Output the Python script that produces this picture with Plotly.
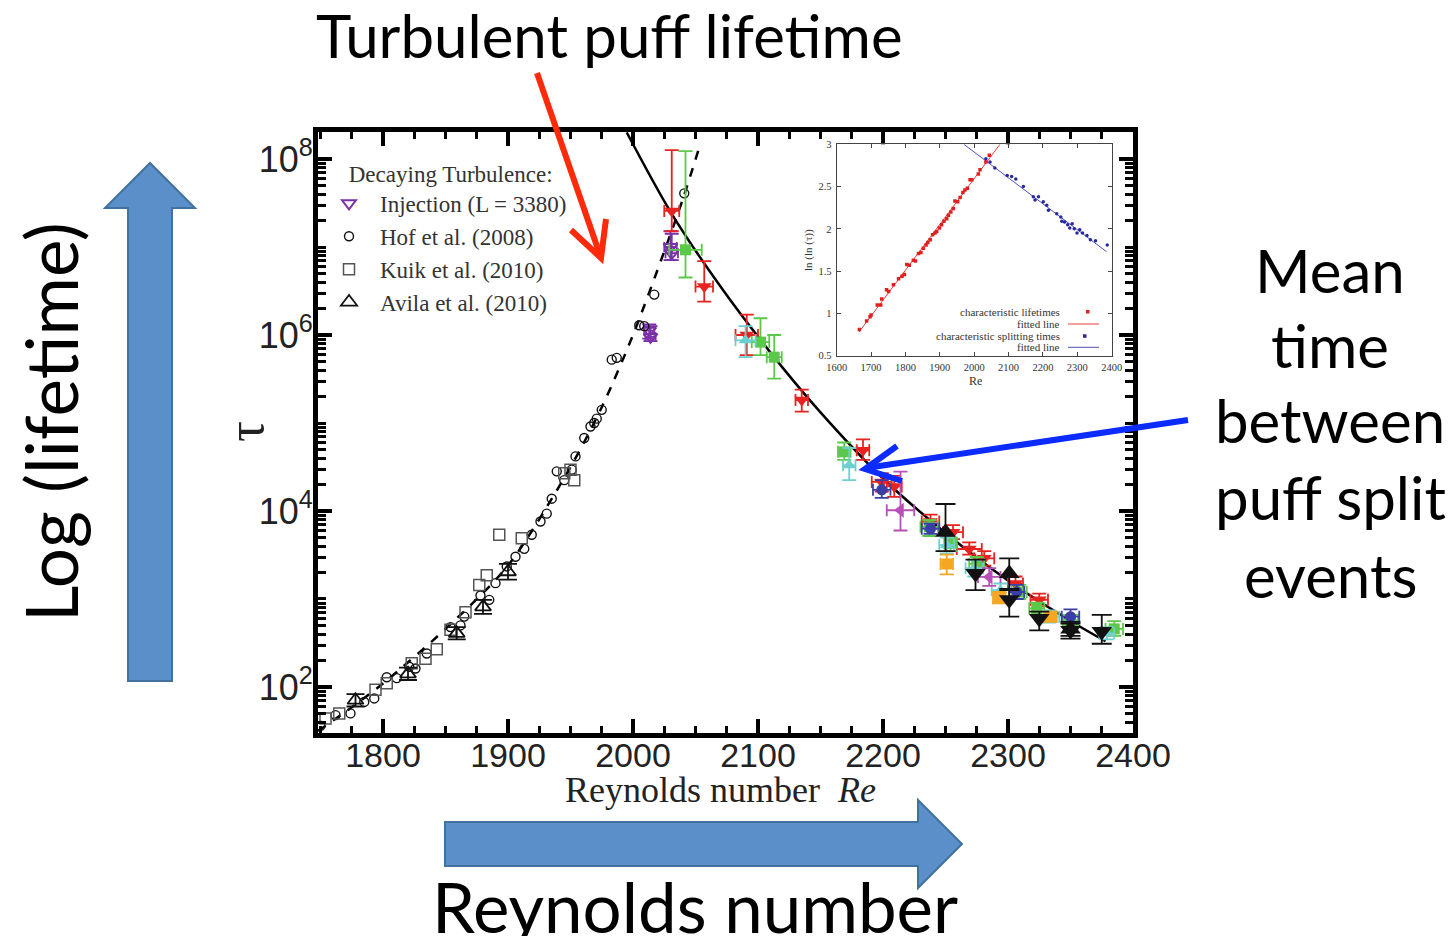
import plotly.graph_objects as go

# ---------------- data ----------------
# Decaying turbulence (left branch)
hof_re = [1750, 1762, 1774, 1785, 1793, 1803, 1811, 1821, 1826, 1835, 1854, 1862, 1865, 1878, 1885,
          1890, 1899, 1906, 1913, 1919, 1926, 1931, 1935, 1939, 1945, 1951, 1954, 1961, 1966, 1969,
          1971, 1975, 1983, 1987, 2005, 2009, 2017, 2041]
hof_tau = [36.3, 47.9, 50.1, 67.6, 74.1, 129, 126, 170, 162, 240, 479, 501, 631, 1096, 977,
           1514, 2344, 3020, 3715, 5370, 7586, 9333, 1.38e4, 2.82e4, 2.24e4, 2.95e4, 4.17e4, 6.76e4, 9.12e4, 1.0e5,
           1.12e5, 1.41e5, 5.25e5, 5.5e5, 1.29e6, 1.26e6, 2.88e6, 4.07e7]

kuik_re = [1754, 1765, 1794, 1803, 1823, 1834, 1843, 1854, 1866, 1877, 1883, 1893, 1911, 1945, 1950, 1953]
kuik_tau = [43.7, 50.1, 93.3, 110, 186, 209, 269, 447, 708, 1445, 1862, 5370, 4898, 2.69e4, 2.95e4, 2.24e4]

avila_re = [1778, 1820, 1859, 1880, 1900]
avila_tau = [70.8, 141, 407, 813, 2040]
avila_lo = [60, 120, 347, 676, 1660]
avila_hi = [83, 166, 479, 977, 2500]

inj_re = [2013, 2014, 2030, 2031]
inj_tau = [1.12e6, 9.5e5, 1.0e7, 8.5e6]
inj_lo = [9.1e5, 8.5e5, 7.1e6, 7.1e6]
inj_hi = [1.32e6, 1.26e6, 1.51e7, 1.41e7]
inj_re_err = [4, 4, 5, 5]

# Puff splitting (right branch)
red_re = [2031, 2057, 2091, 2135, 2184, 2199, 2209, 2238, 2256, 2269, 2281, 2306, 2325]
red_tau = [2.57e7, 3.55e6, 1.0e6, 1.82e5, 4.9e4, 2.14e4, 1.9e4, 7.6e3, 5.75e3, 3.7e3, 2.9e3, 1.5e3, 980]
red_lo = [1.51e7, 2.4e6, 5.9e5, 1.35e5, 3.8e4, 1.66e4, 1.45e4, 6.3e3, 4.8e3, 3.2e3, 2.4e3, 1.26e3, 830]
red_hi = [1.26e8, 6.9e6, 1.7e6, 2.4e5, 6.5e4, 2.7e4, 2.5e4, 9.1e3, 6.9e3, 4.4e3, 3.5e3, 1.8e3, 1150]
red_re_err = [6, 7, 9, 5, 5, 8, 6, 7, 8, 10, 8, 6, 7]

green_re = [2042, 2102, 2113, 2169, 2237, 2254, 2275, 2309, 2323, 2350, 2385]
green_tau = [9.3e6, 8.3e5, 5.6e5, 4.7e4, 6.6e3, 4.3e3, 2.5e3, 1.2e3, 780, 575, 457]
green_lo = [4.5e6, 5.9e5, 3.2e5, 3.8e4, 5.2e3, 3.5e3, 2.1e3, 1.0e3, 660, 500, 380]
green_hi = [1.23e8, 1.55e6, 1.0e6, 6.0e4, 7.9e3, 5.0e3, 3.0e3, 1.45e3, 910, 660, 560]
green_re_err = [13, 7, 6, 5, 7, 5, 6, 6, 6, 6, 7]

cyan_re = [2090, 2173, 2251, 2273, 2294, 2333, 2379]
cyan_tau = [8.7e5, 3.3e4, 4.1e3, 2.24e3, 1.26e3, 630, 407]
cyan_lo = [5.6e5, 2.24e4, 3.3e3, 1.8e3, 1.05e3, 540, 347]
cyan_hi = [1.26e6, 5.2e4, 5.0e3, 2.75e3, 1.5e3, 740, 480]
cyan_re_err = [8, 5, 6, 7, 7, 8, 6]

blue_re = [2199, 2238, 2307, 2350]
blue_tau = [1.74e4, 6.3e3, 1.2e3, 630]
blue_lo = [1.41e4, 5.5e3, 1.0e3, 540]
blue_hi = [2.24e4, 7.2e3, 1.45e3, 760]
blue_re_err = [7, 7, 6, 7]

mag_re = [2214, 2285]
mag_tau = [1.02e4, 1.78e3]
mag_lo = [6.0e3, 1.41e3]
mag_hi = [2.8e4, 2.24e3]
mag_re_err = [11, 9]

orange_re = [2251, 2293, 2334]
orange_tau = [2.5e3, 1.02e3, 630]
orange_lo = [1.9e3, 890, 550]
orange_hi = [3.2e3, 1.2e3, 720]
orange_re_err = [5, 5, 5]

kup_re = [2250, 2301, 2350]
kup_tau = [5.75e3, 1.95e3, 457]
kup_lo = [3.5e3, 1.26e3, 380]
kup_hi = [1.2e4, 2.9e3, 550]

kdn_re = [2274, 2301, 2325, 2350, 2375]
kdn_tau = [1.95e3, 980, 600, 437, 427]
kdn_lo = [1.26e3, 630, 440, 355, 310]
kdn_hi = [2.8e3, 1.3e3, 720, 525, 660]

# fitted curves (knots)
decay_fit_re = [1748, 1775, 1800, 1850, 1900, 1950, 1975, 2000, 2025, 2040, 2053]
decay_fit_tau = [31.6, 58.9, 109.6, 457, 2399, 3.16e4, 1.51e5, 1.0e6, 8.9e6, 3.55e7, 1.35e8]
split_fit_re = [1995, 2030, 2070, 2110, 2150, 2200, 2250, 2300, 2350, 2378]
split_fit_tau = [2.0e8, 2.51e7, 3.55e6, 6.31e5, 1.32e5, 2.34e4, 5.62e3, 1.62e3, 562, 331]

# inset: ln(ln(tau)) vs Re
ins_life_re = [1666, 1687, 1697, 1700, 1718, 1728, 1731, 1745, 1751, 1765, 1780, 1790, 1797, 1804, 1811,
               1823, 1829, 1838, 1845, 1852, 1860, 1865, 1872, 1879, 1886, 1891, 1899, 1905, 1912, 1920,
               1925, 1932, 1939, 1944, 1952, 1959, 1967, 1973, 1980, 1988, 1993, 2012, 2017, 2034, 2044]
ins_life_val = [0.81, 0.91, 0.96, 0.98, 1.10, 1.10, 1.17, 1.28, 1.26, 1.34, 1.41, 1.44, 1.46, 1.58, 1.57,
                1.63, 1.62, 1.71, 1.72, 1.77, 1.81, 1.84, 1.87, 1.93, 1.95, 1.97, 2.01, 2.05, 2.09, 2.12,
                2.16, 2.20, 2.24, 2.33, 2.32, 2.37, 2.43, 2.46, 2.48, 2.58, 2.58, 2.65, 2.70, 2.79, 2.87]
ins_split_re = [2034, 2046, 2060, 2096, 2109, 2121, 2143, 2172, 2177, 2187, 2201, 2211, 2216, 2240, 2252,
                2255, 2263, 2272, 2278, 2285, 2291, 2299, 2307, 2315, 2328, 2338, 2353, 2387]
ins_split_val = [2.83, 2.79, 2.72, 2.63, 2.62, 2.59, 2.50, 2.38, 2.34, 2.38, 2.32, 2.28, 2.22, 2.18, 2.14,
                 2.09, 2.08, 2.05, 2.01, 2.06, 2.00, 1.95, 1.99, 1.95, 1.92, 1.87, 1.86, 1.81]
ins_life_fit_re = [1665, 2075]
ins_life_fit_val = [0.78, 3.0]
ins_split_fit_re = [1970, 2385]
ins_split_fit_val = [3.0, 1.73]

x_tick_vals = [1800, 1900, 2000, 2100, 2200, 2300, 2400]
y_tick_vals = [1e2, 1e4, 1e6, 1e8]
y_tick_text = ["10<sup>2</sup>", "10<sup>4</sup>", "10<sup>6</sup>", "10<sup>8</sup>"]

# ---------------- layout helpers (pixel -> paper) ----------------
L, R, T, B = 318, 1133, 132, 733


def px(x):
    return (x - L) / (R - L)


def py(y):
    return (B - y) / (B - T)


def path(points, close=False):
    s = "M " + " L ".join(f"{px(x):.5f},{py(y):.5f}" for x, y in points)
    return s + (" Z" if close else "")


def errs(vals, lo, hi):
    return [h - v for v, h in zip(vals, hi)], [v - l for v, l in zip(vals, lo)]


fig = go.Figure()

# fitted lines
fig.add_trace(go.Scatter(x=decay_fit_re, y=decay_fit_tau, mode="lines", line=dict(color="black", width=2.5, dash="dash", shape="spline", smoothing=0.8), showlegend=False, hoverinfo="skip"))
fig.add_trace(go.Scatter(x=split_fit_re, y=split_fit_tau, mode="lines", line=dict(color="black", width=2.5, shape="spline", smoothing=0.8), showlegend=False, hoverinfo="skip"))

# legend series
up, dn = errs(inj_tau, inj_lo, inj_hi)
fig.add_trace(go.Scatter(x=inj_re, y=inj_tau, mode="markers", name="Injection (L = 3380)",
                         marker=dict(symbol="triangle-down-open", size=12, color="#7B2FA8", line=dict(width=2)),
                         error_y=dict(type="data", symmetric=False, array=up, arrayminus=dn, color="#7B2FA8", thickness=1.8, width=7),
                         error_x=dict(type="data", array=inj_re_err, color="#7B2FA8", thickness=1.8, width=5)))
fig.add_trace(go.Scatter(x=hof_re, y=hof_tau, mode="markers", name="Hof et al. (2008)",
                         marker=dict(symbol="circle-open", size=9, color="#111", line=dict(width=1.4))))
fig.add_trace(go.Scatter(x=kuik_re, y=kuik_tau, mode="markers", name="Kuik et al. (2010)",
                         marker=dict(symbol="square-open", size=11, color="#555", line=dict(width=1.5))))
up, dn = errs(avila_tau, avila_lo, avila_hi)
fig.add_trace(go.Scatter(x=avila_re, y=avila_tau, mode="markers", name="Avila et al. (2010)",
                         marker=dict(symbol="triangle-up-open", size=14, color="#111", line=dict(width=1.8)),
                         error_y=dict(type="data", symmetric=False, array=up, arrayminus=dn, color="#111", thickness=1.8, width=9)))

# splitting data
series = [
    (red_re, red_tau, red_lo, red_hi, red_re_err, "#E8231F", "triangle-down", 13),
    (green_re, green_tau, green_lo, green_hi, green_re_err, "#5CC84A", "square", 11),
    (cyan_re, cyan_tau, cyan_lo, cyan_hi, cyan_re_err, "#6CCFD0", "triangle-up", 12),
    (blue_re, blue_tau, blue_lo, blue_hi, blue_re_err, "#3A3FA8", "circle", 11),
    (mag_re, mag_tau, mag_lo, mag_hi, mag_re_err, "#B84FB8", "triangle-left", 13),
    (orange_re, orange_tau, orange_lo, orange_hi, orange_re_err, "#F5A623", "square", 11),
]
for rx, ty, lo, hi, rerr, col, sym, sz in series:
    up, dn = errs(ty, lo, hi)
    fig.add_trace(go.Scatter(x=rx, y=ty, mode="markers", showlegend=False,
                             marker=dict(symbol=sym, size=sz, color=col),
                             error_y=dict(type="data", symmetric=False, array=up, arrayminus=dn, color=col, thickness=1.8, width=7),
                             error_x=dict(type="data", array=rerr, color=col, thickness=1.8, width=6)))
for rx, ty, lo, hi, sym in [(kup_re, kup_tau, kup_lo, kup_hi, "triangle-up"), (kdn_re, kdn_tau, kdn_lo, kdn_hi, "triangle-down")]:
    up, dn = errs(ty, lo, hi)
    fig.add_trace(go.Scatter(x=rx, y=ty, mode="markers", showlegend=False,
                             marker=dict(symbol=sym, size=18, color="#111"),
                             error_y=dict(type="data", symmetric=False, array=up, arrayminus=dn, color="#111", thickness=1.8, width=10)))

# inset
fig.add_trace(go.Scatter(x=ins_life_fit_re, y=ins_life_fit_val, mode="lines", xaxis="x2", yaxis="y2", showlegend=False,
                         line=dict(color="#E84040", width=1)))
fig.add_trace(go.Scatter(x=ins_split_fit_re, y=ins_split_fit_val, mode="lines", xaxis="x2", yaxis="y2", showlegend=False,
                         line=dict(color="#5050B8", width=1)))
fig.add_trace(go.Scatter(x=ins_life_re, y=ins_life_val, mode="markers", xaxis="x2", yaxis="y2", showlegend=False,
                         marker=dict(symbol="square", size=3.5, color="#E02020")))
fig.add_trace(go.Scatter(x=ins_split_re, y=ins_split_val, mode="markers", xaxis="x2", yaxis="y2", showlegend=False,
                         marker=dict(symbol="circle", size=3.5, color="#2828A0")))

# y minor tick positions
y_minor = [m * 10 ** k for k in range(1, 9) for m in range(2, 10)] + [1e3, 1e5, 1e7]

fig.update_layout(
    width=1455, height=936,
    margin=dict(l=L, r=1455 - R, t=T, b=936 - B),
    paper_bgcolor="white", plot_bgcolor="white",
    xaxis=dict(range=[1748, 2400], tickvals=x_tick_vals, ticks="inside", ticklen=14, tickwidth=3.5, tickcolor="black",
               showline=True, linewidth=5, linecolor="black", mirror="allticks", showgrid=False, zeroline=False,
               tickfont=dict(family="Liberation Sans", size=34, color="#222"), ticklabelstandoff=-12,
               minor=dict(dtick=25, ticks="inside", ticklen=7, tickwidth=2.5, tickcolor="black", showgrid=False)),
    yaxis=dict(type="log", range=[1.477, 8.307], tickvals=y_tick_vals, ticktext=y_tick_text, ticks="inside", ticklen=14,
               tickwidth=3.5, tickcolor="black", showline=True, linewidth=5, linecolor="black", mirror="allticks",
               showgrid=False, zeroline=False, tickfont=dict(family="Liberation Sans", size=36, color="#222"),
               ticklabelstandoff=-7,
               minor=dict(tickvals=y_minor, ticks="inside", ticklen=8, tickwidth=2.5, tickcolor="black", showgrid=False)),
    xaxis2=dict(domain=[px(836.7), px(1111.7)], anchor="y2", range=[1600, 2400], dtick=100, ticks="inside", ticklen=4,
                tickwidth=0.8, tickcolor="#444", showline=True, linewidth=1, linecolor="#444", mirror="ticks",
                showgrid=False, zeroline=False, tickfont=dict(family="Liberation Serif", size=10.5, color="#333"),
                ticklabelstandoff=2),
    yaxis2=dict(domain=[py(355.7), py(144.3)], anchor="x2", range=[0.5, 3], dtick=0.5, ticks="inside", ticklen=4,
                tickwidth=0.8, tickcolor="#444", showline=True, linewidth=1, linecolor="#444", mirror="ticks",
                showgrid=False, zeroline=False, tickfont=dict(family="Liberation Serif", size=10.5, color="#333"),
                ticklabelstandoff=2),
    legend=dict(x=px(318), y=py(152), xanchor="left", yanchor="top", bgcolor="rgba(0,0,0,0)",
                font=dict(family="Liberation Serif", size=23, color="#333"), tracegroupgap=0, itemwidth=52,
                title=dict(text="&nbsp;&nbsp;&nbsp;&nbsp;&nbsp;Decaying Turbulence:",
                           font=dict(family="Liberation Serif", size=23, color="#333"))),
    showlegend=True,
)

ann = []
big = dict(family="Lato", color="black")
ann.append(dict(text="Turbulent puff lifetime", x=px(609), y=py(35), font=dict(size=60, **big)))
ann.append(dict(text="Log (lifetime)", x=px(50), y=py(422), textangle=-90, font=dict(size=71, **big)))
ann.append(dict(text="Reynolds number", x=px(695), y=py(906), font=dict(size=69, **big)))
for txt, yy in [("Mean", 270), ("time", 345), ("between", 420), ("puff split", 497), ("events", 575)]:
    ann.append(dict(text=txt, x=px(1330), y=py(yy), font=dict(size=60, **big)))
ann.append(dict(text="Reynolds number  <i>Re</i>", x=px(720), y=py(790), font=dict(family="Liberation Serif", size=36, color="#222")))
ann.append(dict(text="τ", x=px(245), y=py(432), textangle=-90, font=dict(family="Liberation Serif", size=52, color="#222")))
ann.append(dict(text="ln (ln (τ))", x=px(808), y=py(250), textangle=-90, font=dict(family="Liberation Serif", size=11, color="#333")))
ann.append(dict(text="Re", x=px(975), y=py(381), font=dict(family="Liberation Serif", size=12, color="#333")))
for txt, yy in [("characteristic lifetimes", 311.7), ("fitted line", 324), ("characteristic splitting times", 336), ("fitted line", 347.3)]:
    ann.append(dict(text=txt, x=px(1062), y=py(yy), xanchor="right",
                    font=dict(family="Liberation Serif", size=11, color="#333")))
for a in ann:
    a.setdefault("xanchor", "center")
    a.update(xref="paper", yref="paper", yanchor="middle", showarrow=False)
fig.update_layout(annotations=ann)

shapes = []
arrow_fill = dict(fillcolor="#5B8FC9", line=dict(color="#41719C", width=2))
shapes.append(dict(type="path", path=path([(128, 681), (128, 208), (105, 208), (150, 163), (195, 208), (172, 208), (172, 681)], True), **arrow_fill))
shapes.append(dict(type="path", path=path([(445, 822), (918, 822), (918, 800), (962, 844), (918, 888), (918, 866), (445, 866)], True), **arrow_fill))
shapes.append(dict(type="path", path=path([(537, 73), (600, 255)]), line=dict(color="#FF2A0A", width=6)))
shapes.append(dict(type="path", path=path([(571, 230), (601, 258), (606, 219)]), line=dict(color="#FF2A0A", width=6)))
shapes.append(dict(type="path", path=path([(1188, 420), (866, 468)]), line=dict(color="#0B2BFF", width=6)))
shapes.append(dict(type="path", path=path([(897, 446), (865, 469), (902, 481)]), line=dict(color="#0B2BFF", width=6)))
# inset legend glyphs
shapes.append(dict(type="rect", x0=px(1086), x1=px(1089.5), y0=py(313.5), y1=py(310), line=dict(width=0), fillcolor="#E02020"))
shapes.append(dict(type="line", x0=px(1068), x1=px(1099), y0=py(324), y1=py(324), line=dict(color="#E84040", width=1)))
shapes.append(dict(type="rect", x0=px(1083), x1=px(1086.5), y0=py(337.8), y1=py(334.3), line=dict(width=0), fillcolor="#2828A0"))
shapes.append(dict(type="line", x0=px(1068), x1=px(1099), y0=py(347.3), y1=py(347.3), line=dict(color="#5050B8", width=1)))
for s in shapes:
    s.update(xref="paper", yref="paper", layer="above")
fig.update_layout(shapes=shapes)

fig.write_html("out.html")
